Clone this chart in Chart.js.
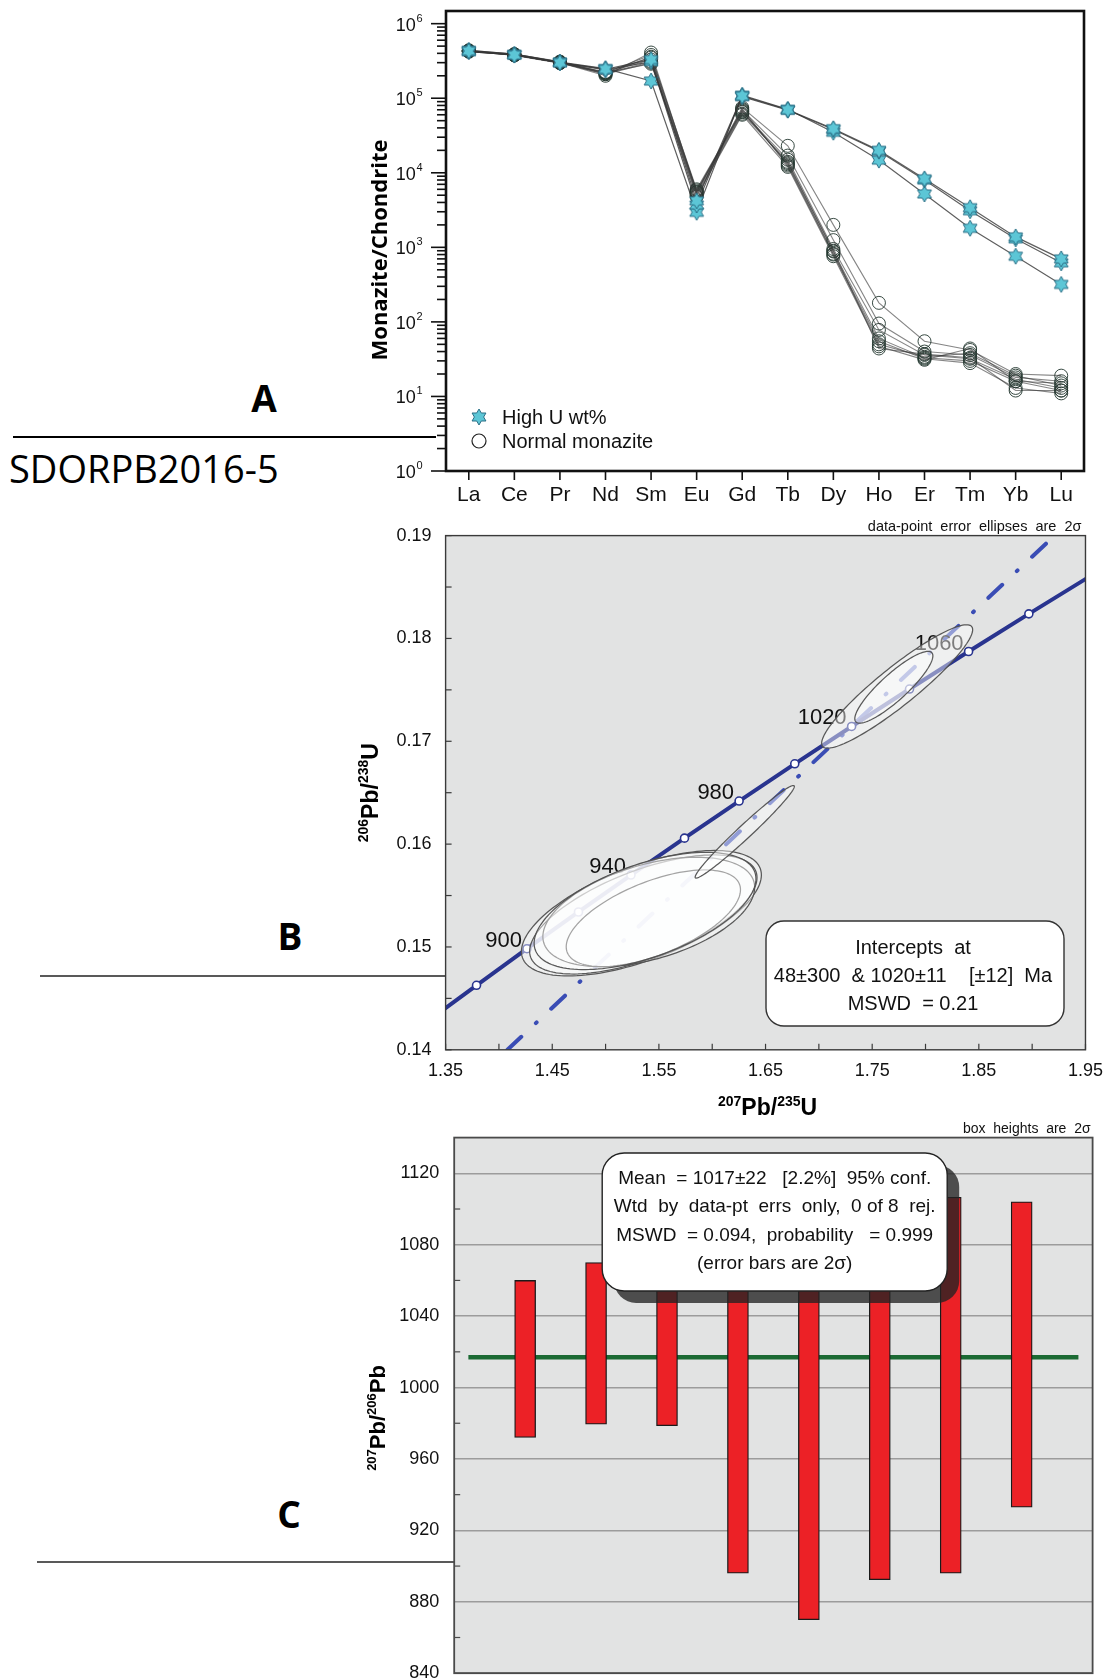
<!DOCTYPE html>
<html>
<head>
<meta charset="utf-8">
<title>SDORPB2016-5 monazite</title>
<script src="https://cdn.jsdelivr.net/npm/chart.js@4.4.1/dist/chart.umd.min.js"></script>
<style>
  html, body { margin: 0; padding: 0; background: #fff; overflow: hidden; }
  #page { position: relative; width: 1113px; height: 1680px; overflow: hidden; }
  #page svg, #page canvas { position: absolute; left: 0; }
</style>
</head>
<body>
<div id="page">
  <svg width="1113" height="1680" style="top:0">
    <g font-family="'Open Sans', sans-serif" fill="#000">
      <text x="264" y="412" font-size="37" font-weight="700" text-anchor="middle">A</text>
      <text x="290" y="950" font-size="37" font-weight="700" text-anchor="middle">B</text>
      <text x="289" y="1528" font-size="37" font-weight="700" text-anchor="middle">C</text>
      <text x="9" y="483" font-size="38">SDORPB2016-5</text>
    </g>
    <line x1="13" y1="437" x2="436" y2="437" stroke="#000" stroke-width="2"/>
    <line x1="40" y1="976" x2="446" y2="976" stroke="#222" stroke-width="1.5"/>
    <line x1="37" y1="1562" x2="454" y2="1562" stroke="#222" stroke-width="1.5"/>
  </svg>
  <canvas id="ree" width="813" height="525" style="left:300px;top:0"></canvas>
  <canvas id="concordia" width="813" height="625" style="left:300px;top:500px"></canvas>
  <canvas id="ages" width="813" height="600" style="left:300px;top:1100px"></canvas>
</div>
<script>
// ---------- A: chondrite-normalised REE ----------
const REE = ["La", "Ce", "Pr", "Nd", "Sm", "Eu", "Gd", "Tb", "Dy", "Ho", "Er", "Tm", "Yb", "Lu"];
const HIGH_U = [
  [4.3e5, 3.8e5, 3.0e5, 2.45e5, 3.3e5, 4.2e3, 1.07e5, 7.0e4, 3.9e4, 2.0e4, 8.3e3, 3.4e3, 1.38e3, 700],
  [4.2e5, 3.8e5, 3.0e5, 2.4e5, 3.1e5, 3.7e3, 1.05e5, 6.9e4, 3.8e4, 1.95e4, 8.0e3, 3.1e3, 1.3e3, 620],
  [4.4e5, 3.9e5, 3.05e5, 2.5e5, 1.7e5, 2.95e3, 1.1e5, 7.1e4, 3.5e4, 1.48e4, 5.2e3, 1.8e3, 760, 318]
];
const NORMAL = [
  [4.3e5, 3.8e5, 3.0e5, 2.0e5, 4.1e5, 5.5e3, 7.5e4, 2.3e4, 2.0e3, 180, 55, 42, 20, 19],
  [4.3e5, 3.85e5, 3.05e5, 2.1e5, 3.6e5, 6.0e3, 7.0e4, 1.7e4, 1.25e3, 95, 40, 36, 18, 16],
  [4.4e5, 3.9e5, 3.1e5, 2.2e5, 3.3e5, 5.2e3, 6.5e4, 1.5e4, 950, 78, 36, 32, 17, 13],
  [4.2e5, 3.8e5, 3.0e5, 2.15e5, 3.1e5, 5.0e3, 6.2e4, 1.4e4, 880, 60, 33, 30, 16, 12],
  [4.3e5, 3.75e5, 2.95e5, 2.2e5, 2.9e5, 5.8e3, 6.8e4, 1.3e4, 820, 55, 32, 28, 13, 11],
  [4.35e5, 3.8e5, 3.0e5, 2.25e5, 3.5e5, 5.4e3, 7.2e4, 1.25e4, 800, 50, 34, 38, 19, 14],
  [4.25e5, 3.8e5, 3.0e5, 2.1e5, 3.0e5, 4.8e3, 6.0e4, 1.2e4, 760, 47, 31, 44, 16, 15],
  [4.3e5, 3.9e5, 3.05e5, 2.2e5, 3.8e5, 5.6e3, 6.6e4, 1.35e4, 900, 44, 37, 33, 12, 12]
];
const DECADES = [0, 1, 2, 3, 4, 5, 6];

// ---------- B: Wetherill concordia ----------
const CONC_AGE = [860, 880, 900, 920, 940, 960, 980, 1000, 1020, 1040, 1060, 1080, 1100];
const CONC_X = [1.3326, 1.3790, 1.4263, 1.4746, 1.5238, 1.5740, 1.6252, 1.6774, 1.7307, 1.7850, 1.8404, 1.8969, 1.9545];
const CONC_Y = [0.14273, 0.14627, 0.14983, 0.15340, 0.15699, 0.16058, 0.16419, 0.16781, 0.17144, 0.17508, 0.17873, 0.18239, 0.18606];
const AGE_LABELS = [900, 940, 980, 1020, 1060];
const DISC_X = [1.408, 1.921];
const DISC_Y = [0.14, 0.19];
const ELL_X = [1.5336, 1.5354, 1.5405, 1.5448, 1.5370, 1.6305, 1.7734, 1.7703];
const ELL_Y = [0.15328, 0.15316, 0.15340, 0.15279, 0.15350, 0.16120, 0.17533, 0.17525];
const ELL_SX = [0.1125, 0.1066, 0.0993, 0.0817, 0.1040, 0.0465, 0.0708, 0.0366];
const ELL_SY = [0.0061, 0.00579, 0.00532, 0.0047, 0.0057, 0.0045, 0.0060, 0.00349];
const ELL_RHO = [0.61, 0.62, 0.45, 0.59, 0.55, 0.98, 0.92, 0.875];
const X_TICKS_B = [1.35, 1.45, 1.55, 1.65, 1.75, 1.85, 1.95];
const Y_TICKS_B = [0.14, 0.15, 0.16, 0.17, 0.18, 0.19];
const INTERCEPT_TEXT = ["Intercepts  at", "48\u00b1300  & 1020\u00b111    [\u00b112]  Ma", "MSWD  = 0.21"];

// ---------- C: weighted mean 207Pb/206Pb ages ----------
const SPOT_NO = [1, 2, 3, 4, 5, 6, 7, 8];
const AGE_LO = [972, 979.5, 978.6, 896, 870, 892.4, 896, 933];
const AGE_HI = [1060, 1070, 1072, 1115, 1128, 1118, 1106.6, 1104];
const MEAN_AGE = 1017;
const Y_TICKS_C = [840, 880, 920, 960, 1000, 1040, 1080, 1120];
const MEAN_TEXT = [
  "Mean  = 1017\u00b122   [2.2%]  95% conf.",
  "Wtd  by  data-pt  errs  only,  0 of 8  rej.",
  "MSWD  = 0.094,  probability   = 0.999",
  "(error bars are 2\u03c3)"
];

const SANS = '"Liberation Sans", Arial, Helvetica, sans-serif';
const MYRIAD = '"Open Sans", "Liberation Sans", sans-serif';
const NAVY = "#29348f";
const DISC_BLUE = "#3a4db5";
const PANEL_GREY = "#e2e3e3";

Chart.defaults.color = "#111";
Chart.defaults.font.family = SANS;

function hexagramImage(size, fill, stroke) {
  const c = document.createElement("canvas");
  c.width = size;
  c.height = size;
  const g = c.getContext("2d");
  const cx = size / 2, cy = size / 2, r = size / 2 - 1;
  g.beginPath();
  for (let k = 0; k < 12; k++) {
    const ang = -Math.PI / 2 + k * Math.PI / 6;
    const rad = k % 2 === 0 ? r : r / Math.sqrt(3);
    const px = cx + rad * Math.cos(ang), py = cy + rad * Math.sin(ang);
    if (k === 0) g.moveTo(px, py); else g.lineTo(px, py);
  }
  g.closePath();
  g.fillStyle = fill;
  g.fill();
  g.lineWidth = 1;
  g.strokeStyle = stroke;
  g.stroke();
  return c;
}

const starImg = hexagramImage(18, "#5cc6d6", "#2b6f86");

function tick(ctx, x1, y1, x2, y2) {
  ctx.beginPath();
  ctx.moveTo(x1, y1);
  ctx.lineTo(x2, y2);
  ctx.stroke();
}

// bold axis titles with superscript isotope masses
function supTitle(ctx, parts, x, y, size, angle) {
  const small = Math.round(size * 0.6);
  const fontOf = p => `bold ${p[1] ? small : size}px ${SANS}`;
  let total = 0;
  const widths = parts.map(p => {
    ctx.font = fontOf(p);
    const w = ctx.measureText(p[0]).width;
    total += w;
    return w;
  });
  ctx.save();
  ctx.translate(x, y);
  ctx.rotate(angle);
  ctx.textAlign = "left";
  ctx.textBaseline = "alphabetic";
  ctx.fillStyle = "#000";
  let cx = -total / 2;
  parts.forEach((p, i) => {
    ctx.font = fontOf(p);
    ctx.fillText(p[0], cx, p[1] ? -size * 0.4 : 0);
    cx += widths[i];
  });
  ctx.restore();
}

function roundBox(ctx, x, y, w, h, r) {
  ctx.beginPath();
  ctx.moveTo(x + r, y);
  ctx.arcTo(x + w, y, x + w, y + h, r);
  ctx.arcTo(x + w, y + h, x, y + h, r);
  ctx.arcTo(x, y + h, x, y, r);
  ctx.arcTo(x, y, x + w, y, r);
  ctx.closePath();
}

function greyPanel(chart) {
  const { ctx, chartArea: a } = chart;
  ctx.save();
  ctx.fillStyle = PANEL_GREY;
  ctx.fillRect(a.left, a.top, a.right - a.left, a.bottom - a.top);
  ctx.restore();
}

// ---------- A ----------
const reeDecor = {
  id: "reeDecor",
  afterDraw(chart) {
    const { ctx, chartArea: a, scales: { x, y } } = chart;
    ctx.save();
    ctx.strokeStyle = "#111";
    ctx.lineWidth = 2.6;
    ctx.strokeRect(a.left, a.top, a.right - a.left, a.bottom - a.top);

    ctx.lineWidth = 1.6;
    REE.forEach((_, i) => {
      const px = x.getPixelForValue(i);
      tick(ctx, px, a.bottom, px, a.bottom + 9);
    });

    // log ticks: long at each decade, short at 2..9
    DECADES.forEach(e => {
      for (let m = 1; m <= 9; m++) {
        const v = m * Math.pow(10, e);
        if (v > y.max) break;
        const py = y.getPixelForValue(v);
        tick(ctx, a.left, py, a.left - (m === 1 ? 15 : 9), py);
      }
      const py = y.getPixelForValue(Math.pow(10, e));
      ctx.fillStyle = "#111";
      ctx.textBaseline = "alphabetic";
      ctx.textAlign = "left";
      ctx.font = `18px ${SANS}`;
      const wBase = ctx.measureText("10").width;
      ctx.font = `11px ${SANS}`;
      const wExp = ctx.measureText(String(e)).width;
      const x0 = a.left - 24 - wBase - wExp;
      ctx.font = `18px ${SANS}`;
      ctx.fillText("10", x0, py + 7);
      ctx.font = `11px ${SANS}`;
      ctx.fillText(String(e), x0 + wBase + 0.5, py - 2);
    });

    // y title
    ctx.save();
    ctx.translate(a.left - 59, (a.top + a.bottom) / 2 + 9);
    ctx.rotate(-Math.PI / 2);
    ctx.font = `bold 22px ${MYRIAD}`;
    ctx.textAlign = "center";
    ctx.fillStyle = "#000";
    ctx.fillText("Monazite/Chondrite", 0, 0);
    ctx.restore();

    // legend
    const lx = a.left + 33;
    ctx.drawImage(starImg, lx - 9, a.bottom - 54 - 9);
    ctx.beginPath();
    ctx.arc(lx, a.bottom - 30, 7, 0, Math.PI * 2);
    ctx.lineWidth = 1.2;
    ctx.strokeStyle = "#222";
    ctx.stroke();
    ctx.font = `20px ${SANS}`;
    ctx.fillStyle = "#111";
    ctx.fillText("High U wt%", a.left + 56, a.bottom - 47);
    ctx.fillText("Normal monazite", a.left + 56, a.bottom - 23);
    ctx.restore();
  }
};

new Chart(document.getElementById("ree"), {
  type: "line",
  data: {
    labels: REE,
    datasets: [
      ...HIGH_U.map(values => ({
        data: values,
        borderColor: "rgba(55,55,55,0.8)",
        borderWidth: 1.2,
        pointStyle: starImg,
        pointRadius: 8,
        tension: 0,
        fill: false
      })),
      ...NORMAL.map(values => ({
        data: values,
        borderColor: "rgba(60,60,60,0.62)",
        borderWidth: 1.1,
        pointStyle: "circle",
        pointRadius: 6.5,
        pointBackgroundColor: "rgba(0,0,0,0)",
        pointBorderColor: "rgba(35,55,48,0.9)",
        pointBorderWidth: 1,
        tension: 0,
        fill: false
      }))
    ]
  },
  options: {
    responsive: false,
    animation: false,
    events: [],
    layout: { padding: { top: 11, right: 29, left: 0, bottom: 0 } },
    plugins: { legend: { display: false }, tooltip: { enabled: false } },
    scales: {
      x: {
        offset: true,
        grid: { display: false, drawTicks: false },
        border: { display: false },
        ticks: { color: "#111", font: { size: 21 }, padding: 12, autoSkip: false, maxRotation: 0 },
        afterFit: s => { s.height = 54; }
      },
      y: {
        type: "logarithmic",
        min: 1,
        max: 1.479e6,
        grid: { display: false, drawTicks: false },
        border: { display: false },
        ticks: { display: false },
        afterFit: s => { s.width = 146; }
      }
    }
  },
  plugins: [reeDecor]
});

// ---------- B ----------
function traceEllipse(ctx, xs, ys, i) {
  const s = Math.sqrt(1 - ELL_RHO[i] * ELL_RHO[i]);
  ctx.beginPath();
  for (let k = 0; k <= 144; k++) {
    const t = (k / 144) * Math.PI * 2;
    const vx = ELL_X[i] + ELL_SX[i] * Math.cos(t);
    const vy = ELL_Y[i] + ELL_SY[i] * (ELL_RHO[i] * Math.cos(t) + s * Math.sin(t));
    const px = xs.getPixelForValue(vx), py = ys.getPixelForValue(vy);
    if (k === 0) ctx.moveTo(px, py); else ctx.lineTo(px, py);
  }
  ctx.closePath();
}

const concordiaDecor = {
  id: "concordiaDecor",
  beforeDraw: greyPanel,
  afterDatasetsDraw(chart) {
    const { ctx, chartArea: a, scales: { x, y } } = chart;
    ctx.save();
    ctx.beginPath();
    ctx.rect(a.left, a.top, a.right - a.left, a.bottom - a.top);
    ctx.clip();

    // age labels along the concordia
    ctx.font = `22px ${SANS}`;
    ctx.fillStyle = "#111";
    ctx.textAlign = "right";
    ctx.textBaseline = "alphabetic";
    AGE_LABELS.forEach(age => {
      const i = CONC_AGE.indexOf(age);
      ctx.fillText(String(age), x.getPixelForValue(CONC_X[i]) - 5, y.getPixelForValue(CONC_Y[i]) - 2);
    });

    // 2-sigma error ellipses
    ELL_X.forEach((_, i) => {
      traceEllipse(ctx, x, y, i);
      ctx.fillStyle = "rgba(255,255,255,0.45)";
      ctx.fill();
      ctx.lineWidth = 1.25;
      ctx.strokeStyle = "rgba(80,80,80,0.95)";
      ctx.stroke();
    });
    ctx.restore();

    // intercept box
    ctx.save();
    const bx = a.left + 320.4, by = a.top + 385.4, bw = 298, bh = 105;
    roundBox(ctx, bx, by, bw, bh, 18);
    ctx.fillStyle = "#fff";
    ctx.fill();
    ctx.lineWidth = 1.4;
    ctx.strokeStyle = "#333";
    ctx.stroke();
    ctx.font = `20px ${SANS}`;
    ctx.fillStyle = "#111";
    ctx.textAlign = "center";
    INTERCEPT_TEXT.forEach((line, k) => ctx.fillText(line, bx + bw / 2 - 2, by + 33 + k * 28));
    ctx.restore();
  },
  afterDraw(chart) {
    const { ctx, chartArea: a, scales: { x, y } } = chart;
    ctx.save();
    ctx.strokeStyle = "#3a3a3a";
    ctx.lineWidth = 1.4;
    ctx.strokeRect(a.left, a.top, a.right - a.left, a.bottom - a.top);
    ctx.lineWidth = 1.2;
    for (let k = 0; k <= 12; k++) {
      const px = x.getPixelForValue(1.35 + k * 0.05);
      tick(ctx, px, a.bottom, px, a.bottom - 6);
    }
    for (let k = 0; k <= 10; k++) {
      const py = y.getPixelForValue(0.14 + k * 0.005);
      tick(ctx, a.left, py, a.left + 6, py);
    }
    ctx.font = `14.5px ${SANS}`;
    ctx.fillStyle = "#111";
    ctx.textAlign = "right";
    ctx.fillText("data-point  error  ellipses  are  2\u03c3", a.right - 4, a.top - 5);
    supTitle(ctx, [["207", true], ["Pb/", false], ["235", true], ["U", false]], (a.left + a.right) / 2 + 2, a.bottom + 65, 23, 0);
    supTitle(ctx, [["206", true], ["Pb/", false], ["238", true], ["U", false]], a.left - 68, (a.top + a.bottom) / 2, 23, -Math.PI / 2);
    ctx.restore();
  }
};

new Chart(document.getElementById("concordia"), {
  type: "scatter",
  data: {
    datasets: [
      {
        data: CONC_X.map((v, i) => ({ x: v, y: CONC_Y[i] })),
        showLine: true,
        borderColor: NAVY,
        borderWidth: 4,
        pointRadius: CONC_AGE.map(age => (age < 880 || age > 1080 ? 0 : 4)),
        pointBackgroundColor: "#fff",
        pointBorderColor: NAVY,
        pointBorderWidth: 1.6,
        clip: 0
      },
      {
        data: DISC_X.map((v, i) => ({ x: v, y: DISC_Y[i] })),
        showLine: true,
        borderColor: DISC_BLUE,
        borderWidth: 4,
        borderDash: [19, 20, 1, 20],
        borderCapStyle: "round",
        pointRadius: 0,
        clip: 0
      }
    ]
  },
  options: {
    responsive: false,
    animation: false,
    events: [],
    layout: { padding: { top: 35.6, right: 24.7, left: 0, bottom: 0 } },
    plugins: { legend: { display: false }, tooltip: { enabled: false } },
    scales: {
      x: {
        type: "linear",
        min: 1.35,
        max: 1.95,
        afterBuildTicks: s => { s.ticks = X_TICKS_B.map(v => ({ value: v })); },
        ticks: { callback: v => v.toFixed(2), font: { size: 18 }, padding: 10, maxRotation: 0 },
        grid: { display: false, drawTicks: false },
        border: { display: false },
        afterFit: s => { s.height = 75.2; }
      },
      y: {
        type: "linear",
        min: 0.14,
        max: 0.19,
        afterBuildTicks: s => { s.ticks = Y_TICKS_B.map(v => ({ value: v })); },
        ticks: { callback: v => v.toFixed(2), font: { size: 18 }, padding: 14 },
        grid: { display: false, drawTicks: false },
        border: { display: false },
        afterFit: s => { s.width = 145.6; }
      }
    }
  },
  plugins: [concordiaDecor]
});

// ---------- C ----------
const agesDecor = {
  id: "agesDecor",
  beforeDraw: greyPanel,
  afterDatasetsDraw(chart) {
    const { ctx, chartArea: a } = chart;
    const bx = a.left + 148, by = a.top + 15.4, bw = 345, bh = 138;
    ctx.save();
    roundBox(ctx, bx + 12, by + 12, bw, bh, 22);
    ctx.fillStyle = "rgba(35,35,35,0.78)";
    ctx.fill();
    roundBox(ctx, bx, by, bw, bh, 22);
    ctx.fillStyle = "#fff";
    ctx.fill();
    ctx.lineWidth = 1.4;
    ctx.strokeStyle = "#222";
    ctx.stroke();
    ctx.font = `19px ${SANS}`;
    ctx.fillStyle = "#111";
    ctx.textAlign = "center";
    MEAN_TEXT.forEach((line, k) => ctx.fillText(line, bx + bw / 2, by + 31 + k * 28.3));
    ctx.restore();
  },
  afterDraw(chart) {
    const { ctx, chartArea: a, scales: { y } } = chart;
    ctx.save();
    ctx.strokeStyle = "#4a4a4a";
    ctx.lineWidth = 1.8;
    ctx.strokeRect(a.left, a.top, a.right - a.left, a.bottom - a.top);
    ctx.lineWidth = 1.2;
    for (let v = 860; v < 1140; v += 40) {
      const py = y.getPixelForValue(v);
      tick(ctx, a.left, py, a.left + 6, py);
    }
    ctx.font = `14px ${SANS}`;
    ctx.fillStyle = "#111";
    ctx.textAlign = "right";
    ctx.fillText("box  heights  are  2\u03c3", a.right - 2, a.top - 5);
    supTitle(ctx, [["207", true], ["Pb/", false], ["206", true], ["Pb", false]], a.left - 69, 318, 22, -Math.PI / 2);
    ctx.restore();
  }
};

new Chart(document.getElementById("ages"), {
  type: "bar",
  data: {
    datasets: [
      {
        type: "bar",
        data: SPOT_NO.map((n, i) => ({ x: n, y: [AGE_LO[i], AGE_HI[i]] })),
        backgroundColor: "#ec2126",
        borderColor: "#1a1a1a",
        borderWidth: 1.3,
        borderSkipped: false,
        barThickness: 21,
        order: 1
      },
      {
        type: "line",
        data: [{ x: 0.2, y: MEAN_AGE }, { x: 8.8, y: MEAN_AGE }],
        borderColor: "#1b6a33",
        borderWidth: 4.5,
        pointRadius: 0,
        order: 2
      }
    ]
  },
  options: {
    responsive: false,
    animation: false,
    events: [],
    layout: { padding: { top: 37.6, right: 20.4, left: 0, bottom: 26.8 } },
    plugins: { legend: { display: false }, tooltip: { enabled: false } },
    scales: {
      x: { type: "linear", min: 0, max: 9, offset: false, display: false },
      y: {
        min: 840,
        max: 1140,
        afterBuildTicks: s => { s.ticks = Y_TICKS_C.map(v => ({ value: v })); },
        ticks: { font: { size: 18 }, padding: 15, callback: v => String(v) },
        grid: { color: "#9c9c9c", lineWidth: 1.5, drawTicks: false },
        border: { display: false },
        afterFit: s => { s.width = 154.2; }
      }
    }
  },
  plugins: [agesDecor]
});
</script>
</body>
</html>
